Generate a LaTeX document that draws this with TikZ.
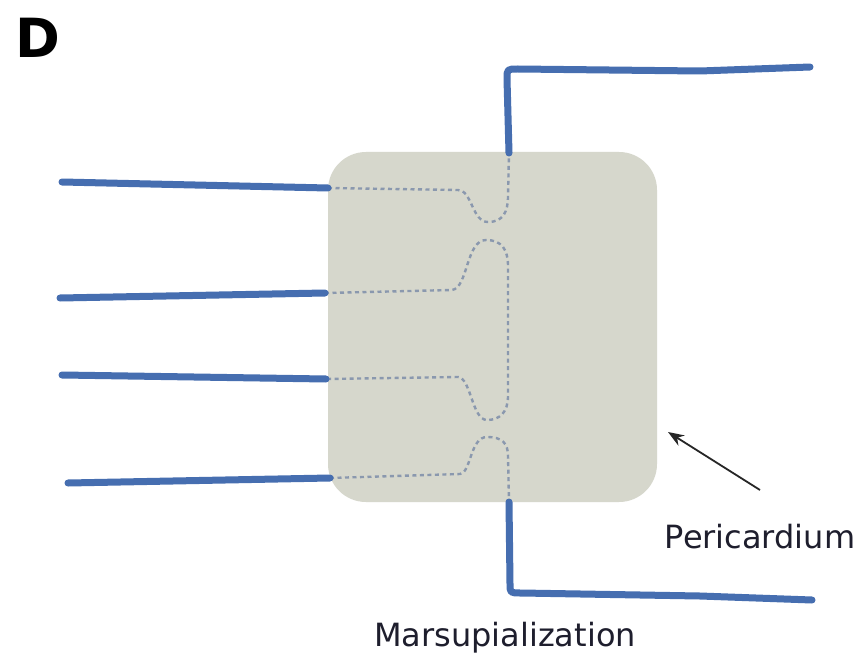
\documentclass[tikz,border=0pt]{standalone}
\usepackage{fontspec}
\setmainfont{DejaVu Sans}
\usetikzlibrary{arrows.meta}
\definecolor{sutureblue}{RGB}{70,110,176}
\definecolor{sacfill}{RGB}{214,215,204}
\definecolor{hiddenpath}{RGB}{138,152,174}
\definecolor{inktext}{RGB}{30,30,45}
\tikzset{
  suture/.style={draw=sutureblue, line width=7pt, line cap=round, line join=round},
  hidden/.style={draw=hiddenpath, line width=2.4pt, dash pattern=on 4pt off 3.5pt},
  sac/.style={fill=sacfill, draw=none, rounded corners=38pt, minimum width=329pt, minimum height=350pt, inner sep=0pt},
  pointer/.style={draw=black!85, line width=1.8pt, -{Stealth[length=16pt,width=12pt]}},
  caption/.style={font=\fontsize{32}{36}\selectfont, text=inktext, inner sep=0pt},
}
\begin{document}
\begin{tikzpicture}[x=1pt,y=-1pt]
\useasboundingbox (0,0) rectangle (864,663);
\fill[white] (0,0) rectangle (864,663);

% panel letter
\node[font=\bfseries\fontsize{54}{58}\selectfont, inner sep=0pt] (panel) at (38,38) {D};

% pericardial sac
\node[sac] (sac) at (492.5,327) {};

% entry points of the sutures on the sac
\coordinate (l1in) at (328,188);
\coordinate (l2in) at (325,293);
\coordinate (l3in) at (326,379);
\coordinate (l4in) at (330,478);
\coordinate (topin) at (509,153);
\coordinate (botin) at (509,502);

% free ends outside
\coordinate (l1out) at (62,182);
\coordinate (l2out) at (60,298);
\coordinate (l3out) at (62,375);
\coordinate (l4out) at (68,483);
\coordinate (topout) at (810,67);
\coordinate (botout) at (812,600);

% passes of the suture hidden behind the sac
\draw[hidden] (l1in) -- (458,190) .. controls (472,190) and (472,222) .. (488,222)
  .. controls (503,222) and (508,212) .. (508,196) -- (topin);
\draw[hidden] (l2in) -- (452,290) .. controls (468,288) and (466,240) .. (486,240)
  .. controls (502,240) and (508,250) .. (508,266) -- (508,396)
  .. controls (508,412) and (500,420) .. (487,420)
  .. controls (472,420) and (471,378) .. (458,377) -- (l3in);
\draw[hidden] (l4in) -- (460,474) .. controls (471,473) and (470,437) .. (487,437)
  .. controls (502,437) and (508,443) .. (508,456) -- (botin);

% visible suture ends
\draw[suture] (l1out) -- (l1in);
\draw[suture] (l2out) -- (l2in);
\draw[suture] (l3out) -- (l3in);
\draw[suture] (l4out) -- (l4in);
\draw[suture] (topin) -- (507,79) .. controls (507,69) .. (518,69) -- (700,71) -- (topout);
\draw[suture] (botin) -- (510,584) .. controls (510,593) .. (521,593) -- (700,596) -- (botout);

% labels
\node[caption] (peri) at (760,537) {Pericardium};
\node[caption] (marsup) at (505,638) {Marsupialization};
\coordinate (arrowtail) at (760,490);
\coordinate (arrowtip) at (668,432);
\draw[pointer] (arrowtail) -- (arrowtip);
\end{tikzpicture}
\end{document}
